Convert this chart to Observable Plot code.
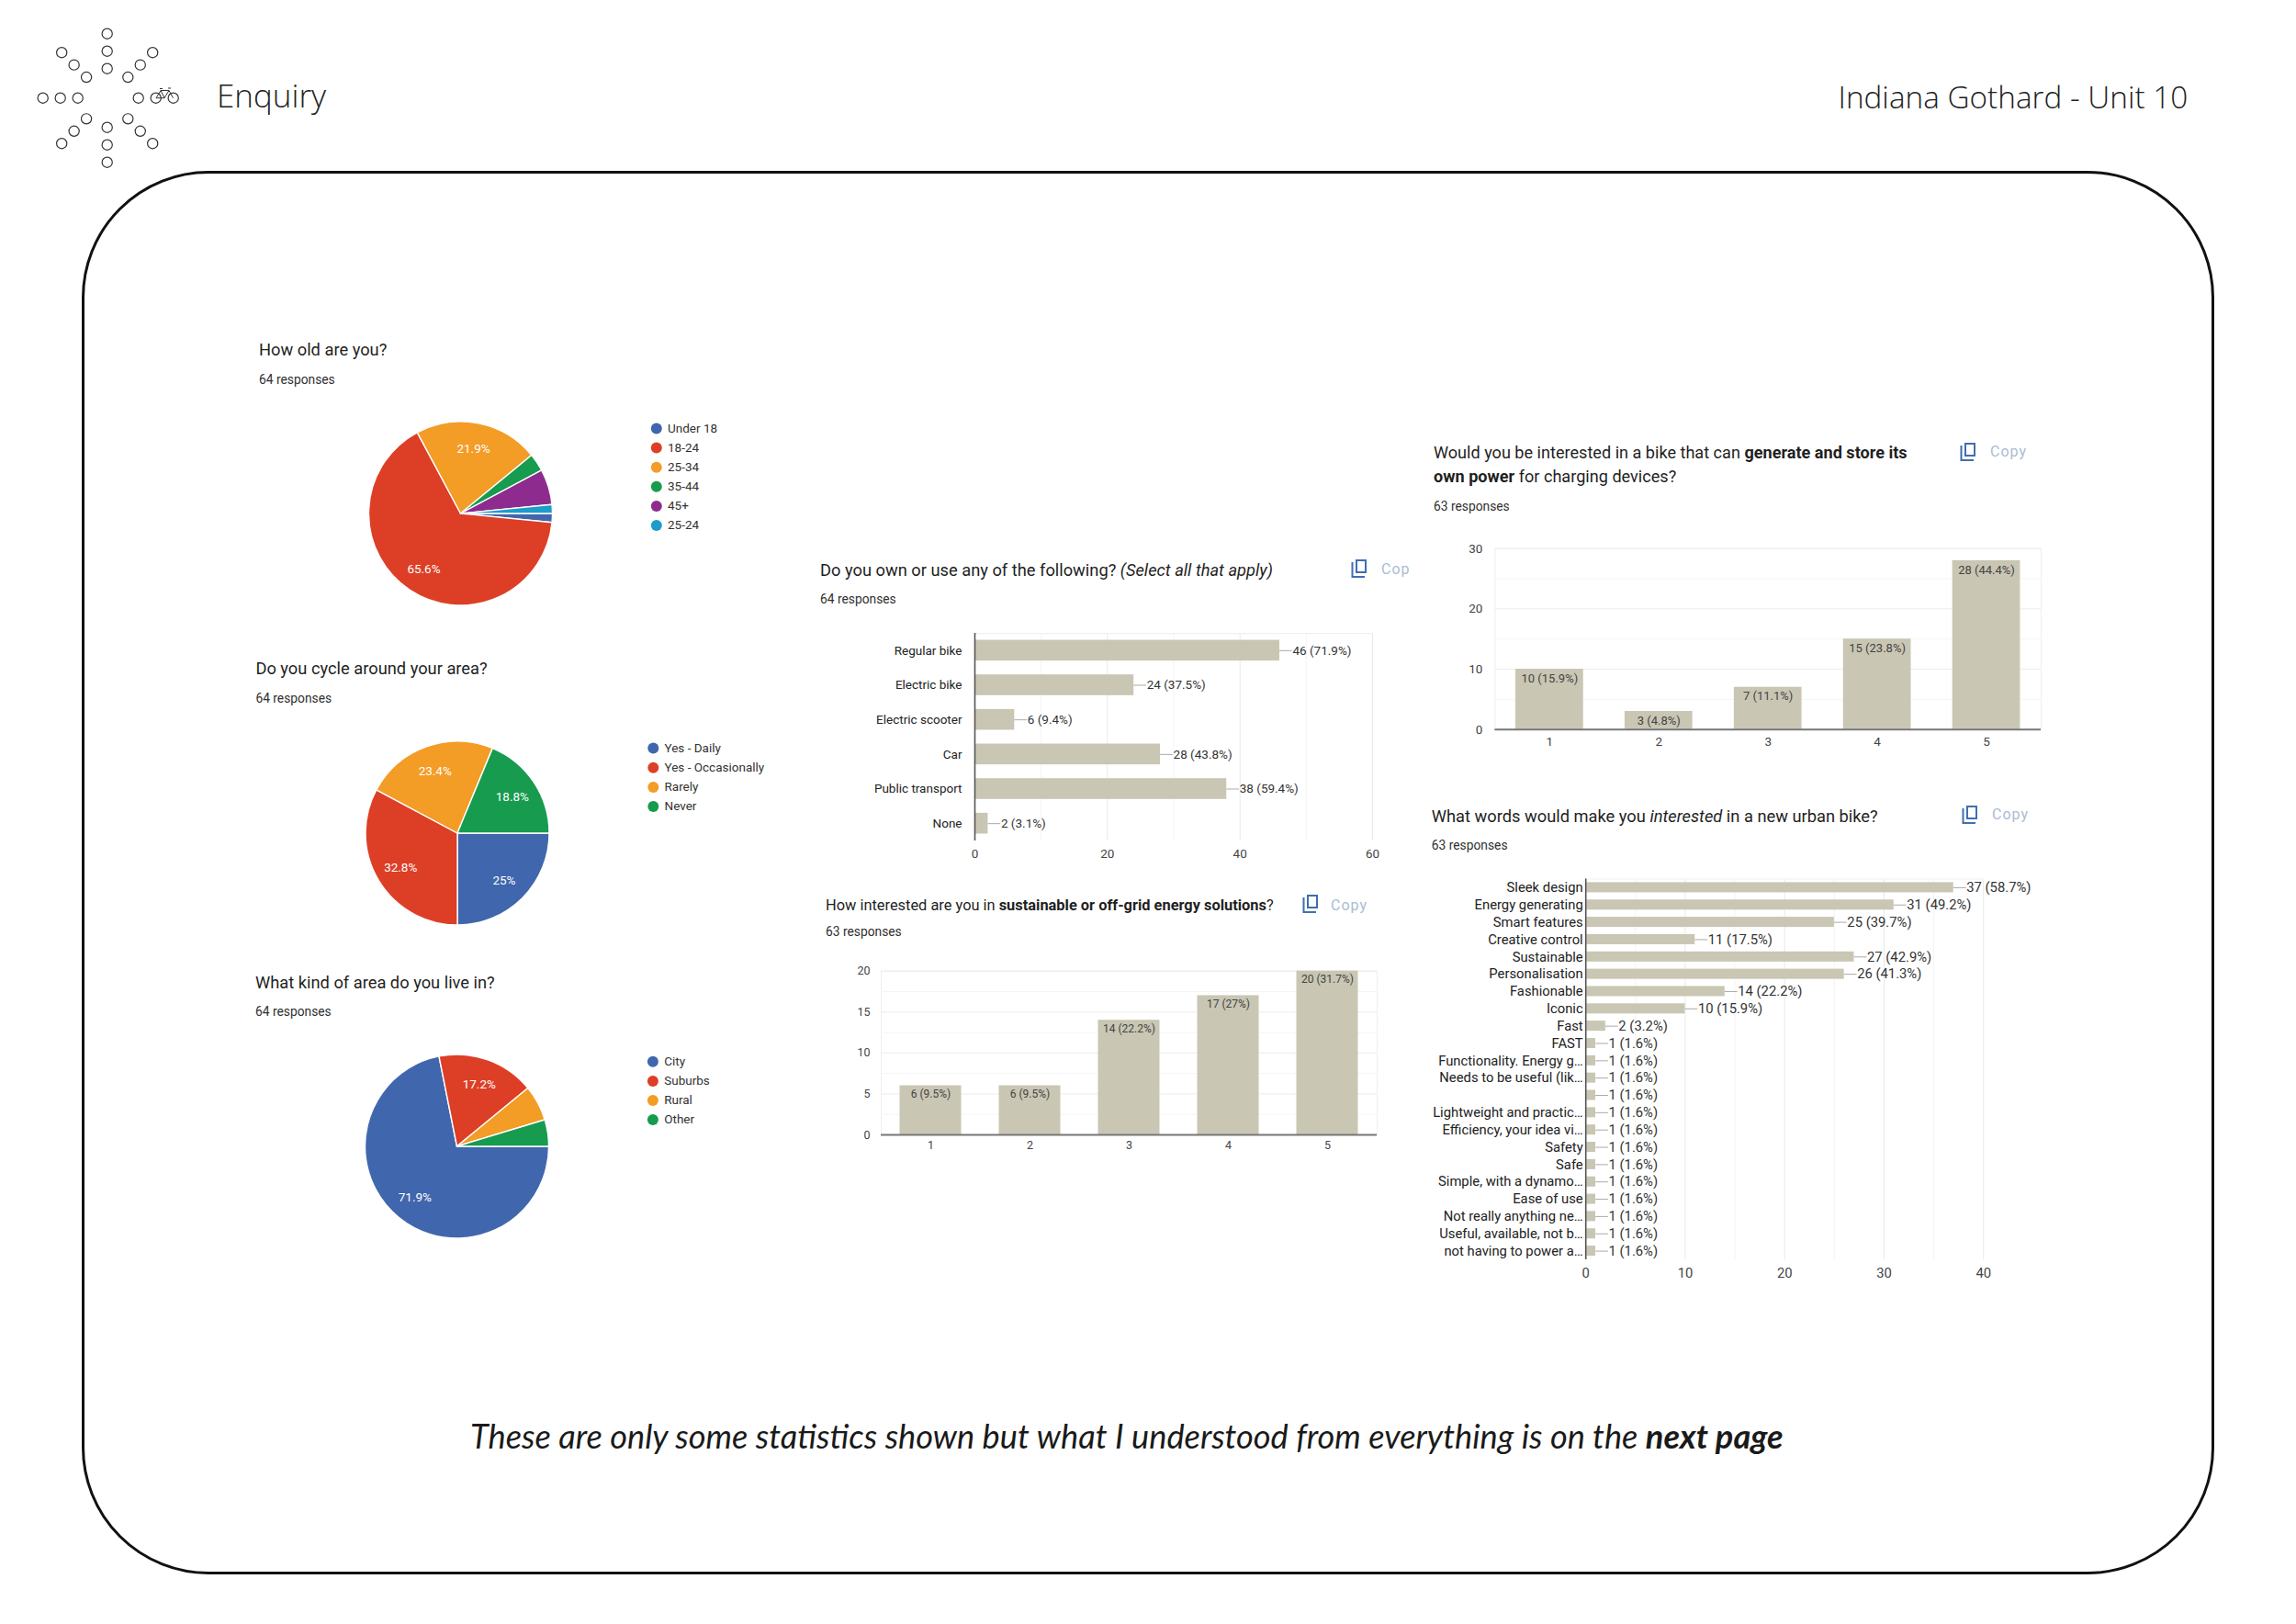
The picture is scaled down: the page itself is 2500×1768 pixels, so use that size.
<!DOCTYPE html>
<html><head><meta charset="utf-8">
<script src="https://cdn.jsdelivr.net/npm/d3@7"></script>
<script src="https://cdn.jsdelivr.net/npm/@observablehq/plot@0.6"></script>
<style>
html,body{margin:0;padding:0;background:#fff;}
#page{position:relative;width:2500px;height:1768px;overflow:hidden;font-family:Roboto,sans-serif;color:#202124;}
#page>svg,.abs{position:absolute;}
.t{position:absolute;white-space:nowrap;font-size:18.3px;line-height:20px;transform:translateY(-50%);color:#1f1f1f;}
.s{position:absolute;white-space:nowrap;font-size:13.8px;line-height:16px;transform:translateY(-50%);color:#303030;}
.c{position:absolute;white-space:nowrap;font-size:16px;line-height:18px;transform:translateY(-50%);color:#a9bdd3;letter-spacing:1px;}
#frame{position:absolute;left:89px;top:186px;width:2316px;height:1522px;border:3.5px solid #111;border-radius:138px;}
</style></head><body><div id="page"><div id="frame"></div></div>
<script>
const palette = ["#4066ad","#dd3f26","#f39c26","#169b4f","#8d2c8e","#1c9cc8"];
const barColor = "#c9c6b3";

const ageNames = ["Under 18","18-24","25-34","35-44","45+","25-24"];
const ageValues = [1,42,14,2,4,1];
const ageLabels = ["","65.6%","21.9%","","",""];

const cycleNames = ["Yes - Daily","Yes - Occasionally","Rarely","Never"];
const cycleValues = [16,21,15,12];
const cycleLabels = ["25%","32.8%","23.4%","18.8%"];

const areaNames = ["City","Suburbs","Rural","Other"];
const areaValues = [46,11,4,3];
const areaLabels = ["71.9%","17.2%","",""];

const ownNames = ["Regular bike","Electric bike","Electric scooter","Car","Public transport","None"];
const ownValues = [46,24,6,28,38,2];
const ownLabels = ["46 (71.9%)","24 (37.5%)","6 (9.4%)","28 (43.8%)","38 (59.4%)","2 (3.1%)"];

const energyCats = ["1","2","3","4","5"];
const energyValues = [6,6,14,17,20];
const energyLabels = ["6 (9.5%)","6 (9.5%)","14 (22.2%)","17 (27%)","20 (31.7%)"];

const powerCats = ["1","2","3","4","5"];
const powerValues = [10,3,7,15,28];
const powerLabels = ["10 (15.9%)","3 (4.8%)","7 (11.1%)","15 (23.8%)","28 (44.4%)"];

const wordNames = ["Sleek design","Energy generating","Smart features","Creative control","Sustainable","Personalisation","Fashionable","Iconic","Fast","FAST","Functionality. Energy g…","Needs to be useful (lik…"," ","Lightweight and practic…","Efficiency, your idea vi…","Safety","Safe","Simple, with a dynamo…","Ease of use","Not really anything ne…","Useful, available, not b…","not having to power a…"];
const wordValues = [37,31,25,11,27,26,14,10,2,1,1,1,1,1,1,1,1,1,1,1,1,1];
const wordLabels = ["37 (58.7%)","31 (49.2%)","25 (39.7%)","11 (17.5%)","27 (42.9%)","26 (41.3%)","14 (22.2%)","10 (15.9%)","2 (3.2%)","1 (1.6%)","1 (1.6%)","1 (1.6%)","1 (1.6%)","1 (1.6%)","1 (1.6%)","1 (1.6%)","1 (1.6%)","1 (1.6%)","1 (1.6%)","1 (1.6%)","1 (1.6%)","1 (1.6%)"];

const page = document.getElementById("page");
function place(svg,left,top){svg.style.position="absolute";svg.style.left=left+"px";svg.style.top=top+"px";page.appendChild(svg);}
function html(cls,x,y,content,extra){const d=document.createElement("div");d.className=cls;d.style.left=x+"px";d.style.top=y+"px";d.innerHTML=content;if(extra)Object.assign(d.style,extra);page.appendChild(d);return d;}

function pieChart({names,values,labels,cx,cy,r,legendX,textX,legendTop,step}){
  const top=cy-r-12,left=260,H=2*r+24,W=620;
  const rows=names.map((name,i)=>({name,value:values[i],label:labels[i]}));
  const arcs=d3.pie().sort(null).value(d=>d.value).startAngle(Math.PI/2).endAngle(Math.PI/2+2*Math.PI)(rows);
  const arc=d3.arc().innerRadius(0).outerRadius(r);
  const lab=d3.arc().innerRadius(r*0.72).outerRadius(r*0.72);
  const pieMark=(index,scales)=>{
    const g=d3.create("svg:g").attr("transform",`translate(${cx-left},${cy-top})`);
    g.selectAll("path").data(arcs).join("path").attr("d",arc).attr("fill",d=>scales.color(d.data.name)).attr("stroke","#fff").attr("stroke-width",1.4).attr("stroke-linejoin","round");
    g.selectAll("text").data(arcs.filter(d=>d.data.label)).join("text").attr("transform",d=>`translate(${lab.centroid(d)})`).attr("text-anchor","middle").attr("dy","0.35em").attr("fill","#fff").attr("font-size",13.5).attr("font-family","Roboto").attr("font-weight",400).text(d=>d.data.label);
    return g.node();
  };
  const p=Plot.plot({width:W,height:H,margin:0,style:{background:"transparent",fontFamily:"Roboto",fontSize:"13px",overflow:"visible"},
    x:{axis:null},
    y:{axis:null,type:"point",padding:0,round:false,domain:names,range:[legendTop-top,legendTop-top+step*(names.length-1)]},
    color:{domain:names,range:palette},
    marks:[pieMark,
      Plot.dot(rows,{y:"name",fill:"name",frameAnchor:"left",dx:legendX-left,r:6}),
      Plot.text(rows,{y:"name",text:"name",frameAnchor:"left",textAnchor:"start",dx:textX-left,fill:"#333",fontSize:13.5})
    ]});
  place(p,left,top);
}

function hbar({names,values,labels,domain,major,minor,left,top,W,H,x0,x1,y0,y1,fs,tickFs,gap,conn,band,axisColor,tickDy}){
  const rows=names.map((name,i)=>({name,value:values[i],label:labels[i]}));
  const p=Plot.plot({width:W,height:H,marginLeft:x0-left,marginRight:left+W-x1,marginTop:y0-top,marginBottom:top+H-y1,
    style:{background:"transparent",fontFamily:"Roboto",fontSize:fs+"px",overflow:"visible"},
    x:{domain,label:null},
    y:{domain:names,round:false,paddingInner:1-band,paddingOuter:(1-band)/2,label:null},
    marks:[
      Plot.ruleX(minor,{stroke:"#f4f4f4"}),
      Plot.ruleX(major,{stroke:"#e9e9e9"}),
      Plot.frame({stroke:"#efefef",anchor:"top"}),
      Plot.barX(rows,{y:"name",x:"value",fill:barColor}),
      Plot.vector(rows,{x:"value",y:"name",rotate:90,length:conn,anchor:"start",stroke:"#aaa",strokeWidth:1,shape:{draw(c,l){c.moveTo(0,0);c.lineTo(0,-l);}}}),
      Plot.text(rows,{x:"value",y:"name",text:"label",textAnchor:"start",dx:conn+1,fill:"#333"}),
      Plot.ruleX([0],{stroke:axisColor,strokeWidth:1.6}),
      Plot.axisY({tickSize:0,tickPadding:gap,fill:"#222",label:null}),
      Plot.axisX({ticks:major,tickSize:0,tickPadding:tickDy,fill:"#444",fontSize:tickFs,label:null,tickFormat:d=>d})
    ]});
  place(p,left,top);
}

function vbar({cats,values,labels,domain,major,minor,left,top,W,H,x0,x1,y0,y1,fs,tickFs,gap,labelDy,tickDy}){
  const rows=cats.map((cat,i)=>({cat,value:values[i],label:labels[i]}));
  const p=Plot.plot({width:W,height:H,marginLeft:x0-left,marginRight:left+W-x1,marginTop:y0-top,marginBottom:top+H-y1,
    style:{background:"transparent",fontFamily:"Roboto",fontSize:tickFs+"px",overflow:"visible"},
    x:{domain:cats,round:false,paddingInner:.38,paddingOuter:.19,label:null},
    y:{domain,label:null},
    marks:[
      Plot.frame({stroke:"#efefef"}),
      Plot.ruleY(minor,{stroke:"#f5f5f5"}),
      Plot.ruleY(major,{stroke:"#ececec"}),
      Plot.barY(rows,{x:"cat",y:"value",fill:barColor}),
      Plot.text(rows,{x:"cat",y:"value",text:"label",dy:labelDy,fill:"#444",fontSize:fs}),
      Plot.ruleY([0],{stroke:"#777",strokeWidth:2}),
      Plot.axisY({ticks:major,tickSize:0,tickPadding:gap,fill:"#444",label:null,tickFormat:d=>d}),
      Plot.axisX({tickSize:0,tickPadding:tickDy,fill:"#444",label:null})
    ]});
  place(p,left,top);
}

pieChart({names:ageNames,values:ageValues,labels:ageLabels,cx:501.5,cy:559,r:100,legendX:714.3,textX:726.5,legendTop:466,step:21.1});
pieChart({names:cycleNames,values:cycleValues,labels:cycleLabels,cx:498,cy:906.7,r:100,legendX:710.8,textX:723,legendTop:813.7,step:21.2});
pieChart({names:areaNames,values:areaValues,labels:areaLabels,cx:497.5,cy:1247.7,r:100,legendX:710.4,textX:722.7,legendTop:1155,step:21.1});

hbar({names:ownNames,values:ownValues,labels:ownLabels,domain:[0,60],major:[0,20,40,60],minor:[10,30,50],left:880,top:670,W:660,H:280,x0:1061,x1:1494,y0:689,y1:915,fs:13.5,tickFs:13.5,gap:14,conn:13,band:.6,axisColor:"#555",tickDy:9});
hbar({names:wordNames,values:wordValues,labels:wordLabels,domain:[0,40],major:[0,10,20,30,40],minor:[5,15,25,35],left:1540,top:945,W:700,H:460,x0:1726.2,x1:2159.2,y0:956.5,y1:1371,fs:14.8,tickFs:14.8,gap:3,conn:13,band:.585,axisColor:"#555",tickDy:9});
vbar({cats:energyCats,values:energyValues,labels:energyLabels,domain:[0,20],major:[0,5,10,15,20],minor:[2.5,7.5,12.5,17.5],left:900,top:1040,W:640,H:230,x0:959,x1:1499,y0:1056.7,y1:1235,fs:12,tickFs:12.5,gap:12,labelDy:9,tickDy:7});
vbar({cats:powerCats,values:powerValues,labels:powerLabels,domain:[0,30],major:[0,10,20,30],minor:[5,15,25],left:1570,top:580,W:680,H:245,x0:1627.4,x1:2222,y0:596.7,y1:793.7,fs:13,tickFs:13.5,gap:13.5,labelDy:10,tickDy:8});

html("t",282,380.7,"How old are you?");html("s",282,412.7,"64 responses");
html("t",278.4,728.3,"Do you cycle around your area?");html("s",278.4,760,"64 responses");
html("t",278,1069.7,"What kind of area do you live in?");html("s",278,1101.3,"64 responses");
html("t",893,620.7,"Do you own or use any of the following? <i>(Select all that apply)</i>");html("s",893,652.3,"64 responses");
html("t",899,985.7,"How interested are you in <b>sustainable or off-grid energy solutions</b>?",{fontSize:"16.4px"});html("s",899,1014.3,"63 responses");
html("t",1561,492.7,"Would you be interested in a bike that can <b>generate and store its</b>",{fontSize:"18.1px"});
html("t",1561,519.3,"<b>own power</b> for charging devices?",{fontSize:"18.1px"});html("s",1561,550.7,"63 responses");
html("t",1558.8,888.7,"What words would make you <i>interested</i> in a new urban bike?");html("s",1558.8,920.3,"63 responses");
html("c",1504,620,"Cop");html("c",1449,986,"Copy");html("c",2167,492,"Copy");html("c",2169,887,"Copy");

function copyIcon(x,y){
  const s=d3.create("svg").attr("width",20).attr("height",24).style("position","absolute").style("left",x+"px").style("top",y+"px");
  s.append("path").attr("d","M6 3 H16 V16 H6 Z M1.5 5 V21 H15").attr("fill","none").attr("stroke","#3f6fb0").attr("stroke-width",2);
  page.appendChild(s.node());
}
copyIcon(1471,607);copyIcon(1418,972);copyIcon(2134,480);copyIcon(2136,875);

html("abs",236,104,"Enquiry",{fontFamily:"'Open Sans'",fontWeight:300,fontSize:"35px",lineHeight:"40px",transform:"translateY(-50%)",color:"#222"});
html("abs",2001.5,105,"Indiana Gothard - Unit 10",{fontFamily:"'Open Sans'",fontWeight:300,fontSize:"33.3px",lineHeight:"44px",transform:"translateY(-50%)",whiteSpace:"nowrap",color:"#222"});
html("abs",512,1563,"These are only some statistics shown but what I understood from everything is on the <b>next page</b>",{fontFamily:"Lato",fontStyle:"italic",fontSize:"36.2px",lineHeight:"44px",transform:"translateY(-50%)",whiteSpace:"nowrap",color:"#1a1a1a"});

const logo=d3.create("svg").attr("width",220).attr("height",210).style("position","absolute").style("left","0px").style("top","0px");
const cxL=116.7,cyL=106.7;
for(let a=0;a<8;a++){for(const rr of [32,51,70]){
  const ang=a*Math.PI/4,extra=(a===0)?2:0;
  logo.append("circle").attr("cx",cxL+(rr+extra)*Math.cos(ang)).attr("cy",cyL+(rr+extra)*Math.sin(ang)).attr("r",5.6).attr("fill","none").attr("stroke","#333").attr("stroke-width",1.2);
}}
logo.append("path").attr("d","M170 106.7 L175 98.5 L184 98.5 L188.5 106.7 M175 98.5 L179 106.7 L170 106.7 M179 106.7 L184 98.5 M183 96 L186 96 M174 96.5 L177 96.5").attr("fill","none").attr("stroke","#333").attr("stroke-width",1);
page.appendChild(logo.node());
</script></body></html>
